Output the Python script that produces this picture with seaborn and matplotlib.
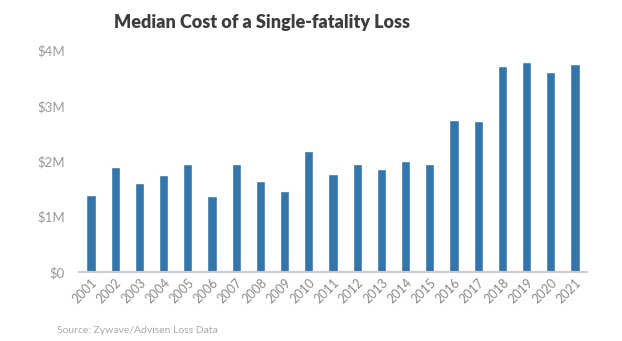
import matplotlib
matplotlib.use("Agg")
import matplotlib.pyplot as plt
import seaborn as sns
import pandas as pd

years = [str(y) for y in range(2001, 2022)]
median_cost_m = [1.39, 1.89, 1.61, 1.76, 1.95, 1.38, 1.95, 1.65, 1.46, 2.19, 1.77,
                 1.95, 1.86, 2.01, 1.95, 2.74, 2.73, 3.72, 3.80, 3.62, 3.76]
y_ticks = [0, 1, 2, 3, 4]
y_tick_labels = ["$0", "$1M", "$2M", "$3M", "$4M"]
title = "Median Cost of a Single-fatality Loss"
source = "Source: Zywave/Advisen Loss Data"

sns.set_theme(style="white")
plt.rcParams['font.family'] = ['Lato', 'DejaVu Sans']

df = pd.DataFrame({"year": years, "cost": median_cost_m})

fig = plt.figure(figsize=(6.22, 3.41), dpi=100)
ax = fig.add_axes([0.127, 0.2023, 0.817, 0.6497])
sns.barplot(data=df, x="year", y="cost", color="#3476aa", width=0.38,
            saturation=1, ax=ax)
ax.set_xlim(-0.5, len(years) - 0.5)
ax.set_ylim(0, 4)
ax.set_yticks(y_ticks)
ax.set_yticklabels(y_tick_labels, color="#9a9a9a", fontsize=9.5)
ax.tick_params(axis="y", length=0, pad=10)
ax.tick_params(axis="x", length=0, pad=3)
for lab in ax.get_xticklabels():
    lab.set_rotation(45)
    lab.set_ha("right")
    lab.set_rotation_mode("anchor")
    lab.set_color("#8a8a8a")
    lab.set_fontsize(9)
ax.set_xlabel("")
ax.set_ylabel("")
for s in ["top", "right", "left"]:
    ax.spines[s].set_visible(False)
ax.spines["bottom"].set_color("#cccccc")
ax.spines["bottom"].set_linewidth(1.5)

fig.text(0.421, 0.935, title, ha="center", va="center", fontsize=13,
         fontweight="heavy", color="#3d3d3f")
fig.text(0.092, 0.032, source, ha="left", va="center", fontsize=7.5,
         color="#aaaaaa")

fig.savefig("out.png", dpi=100)
